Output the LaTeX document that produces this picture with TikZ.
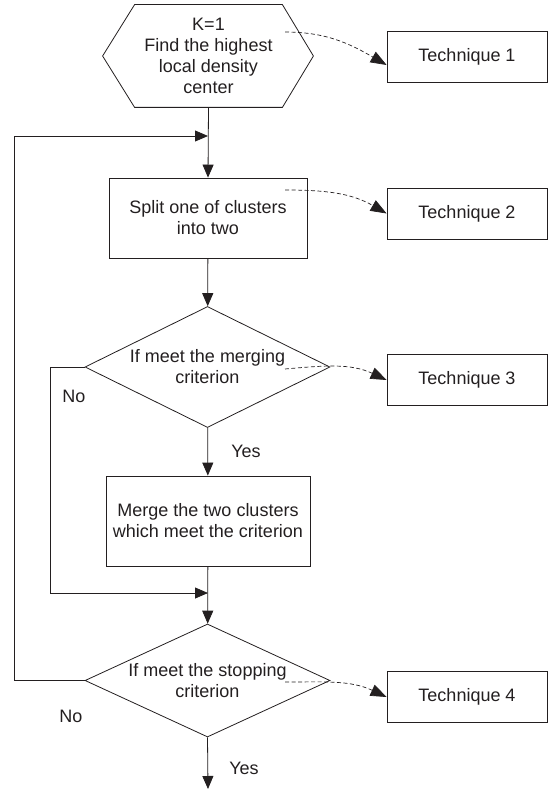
\documentclass[tikz,border=0pt]{standalone}
\usepackage{fontspec}
\setmainfont{Liberation Sans}
\usetikzlibrary{shapes.geometric,arrows.meta,calc}
\definecolor{InkBlack}{RGB}{35,31,32}

\tikzset{
  box/.style={draw=InkBlack, line width=0.8pt, text=InkBlack, align=center,
    inner sep=0pt, font=\fontsize{18}{21}\selectfont},
  decision/.style={box, diamond, aspect=2.2},
  flow/.style={draw=InkBlack, line width=0.8pt, -{Triangle[length=13pt,width=11pt]}},
  hint/.style={draw=InkBlack, line width=0.7pt, dash pattern=on 4pt off 2.5pt,
    -{Triangle[length=16pt,width=12pt]}},
  lbl/.style={text=InkBlack, font=\fontsize{18}{21}\selectfont}
}

\begin{document}
\begin{tikzpicture}[x=1pt, y=-1pt]
  \useasboundingbox (0,0) rectangle (552,789);

  % Main column
  \node[box, draw=none, minimum width=147pt, minimum height=102pt] (start) at (208.5,56)
    {K=1\\Find the highest\\local density\\center};
  \draw[InkBlack, line width=0.8pt] (start.north west) -- (start.north east)
    -- ($(start.east)+(31,0)$) -- (start.south east) -- (start.south west)
    -- ($(start.west)+(-32,0)$) -- cycle;
  \node[box, minimum width=198pt, minimum height=80pt] (split) at (208,218)
    {Split one of clusters\\into two};
  \node[decision, minimum width=245pt, minimum height=121pt] (mergeq) at (207.5,367)
    {If meet the merging\\criterion};
  \node[box, minimum width=204pt, minimum height=90pt] (merge) at (208,521)
    {Merge the two clusters\\which meet the criterion};
  \node[decision, minimum width=245pt, minimum height=113pt] (stopq) at (207.5,680.5)
    {If meet the stopping\\criterion};

  % Right column - techniques
  \node[box, minimum width=160pt, minimum height=51pt] (tech1) at (467,57) {Technique 1};
  \node[box, minimum width=160pt, minimum height=51pt] (tech2) at (467,213.5) {Technique 2};
  \node[box, minimum width=160pt, minimum height=51pt] (tech3) at (467,380) {Technique 3};
  \node[box, minimum width=160pt, minimum height=51pt] (tech4) at (467,697) {Technique 4};

  \coordinate (loopin) at (208,136);
  \coordinate (mergein) at (208,593);
  \coordinate (finish) at (208,789);
  \coordinate (h1) at (285,32);
  \coordinate (h2) at (285,190);
  \coordinate (h3) at (285,369);
  \coordinate (h4) at (285,682);

  % Flow
  \draw[flow] (start.south) -- (split.north);
  \draw[flow] (split) -- (mergeq);
  \draw[flow] (mergeq) -- (merge);
  \draw[flow] (merge) -- (stopq);
  \draw[flow] (stopq.south) -- (finish);
  \draw[flow] (mergeq.west) -- ++(-34.5,0) |- (mergein);
  \draw[flow] (stopq.west) -- ++(-70,0) |- (loopin);

  \node[lbl] (no1) at (74,396) {No};
  \node[lbl] (yes1) at (246,451) {Yes};
  \node[lbl] (no2) at (71,716) {No};
  \node[lbl] (yes2) at (244,768) {Yes};

  % Dashed hints
  \draw[hint] (h1) to[out=0, in=150] ($(tech1.west)+(0,8)$);
  \draw[hint] (h2) to[out=0, in=150] (tech2.west);
  \draw[hint] (h3) to[out=5, in=155] (tech3.west);
  \draw[hint] (h4) to[out=0, in=155] (tech4.west);
\end{tikzpicture}
\end{document}
